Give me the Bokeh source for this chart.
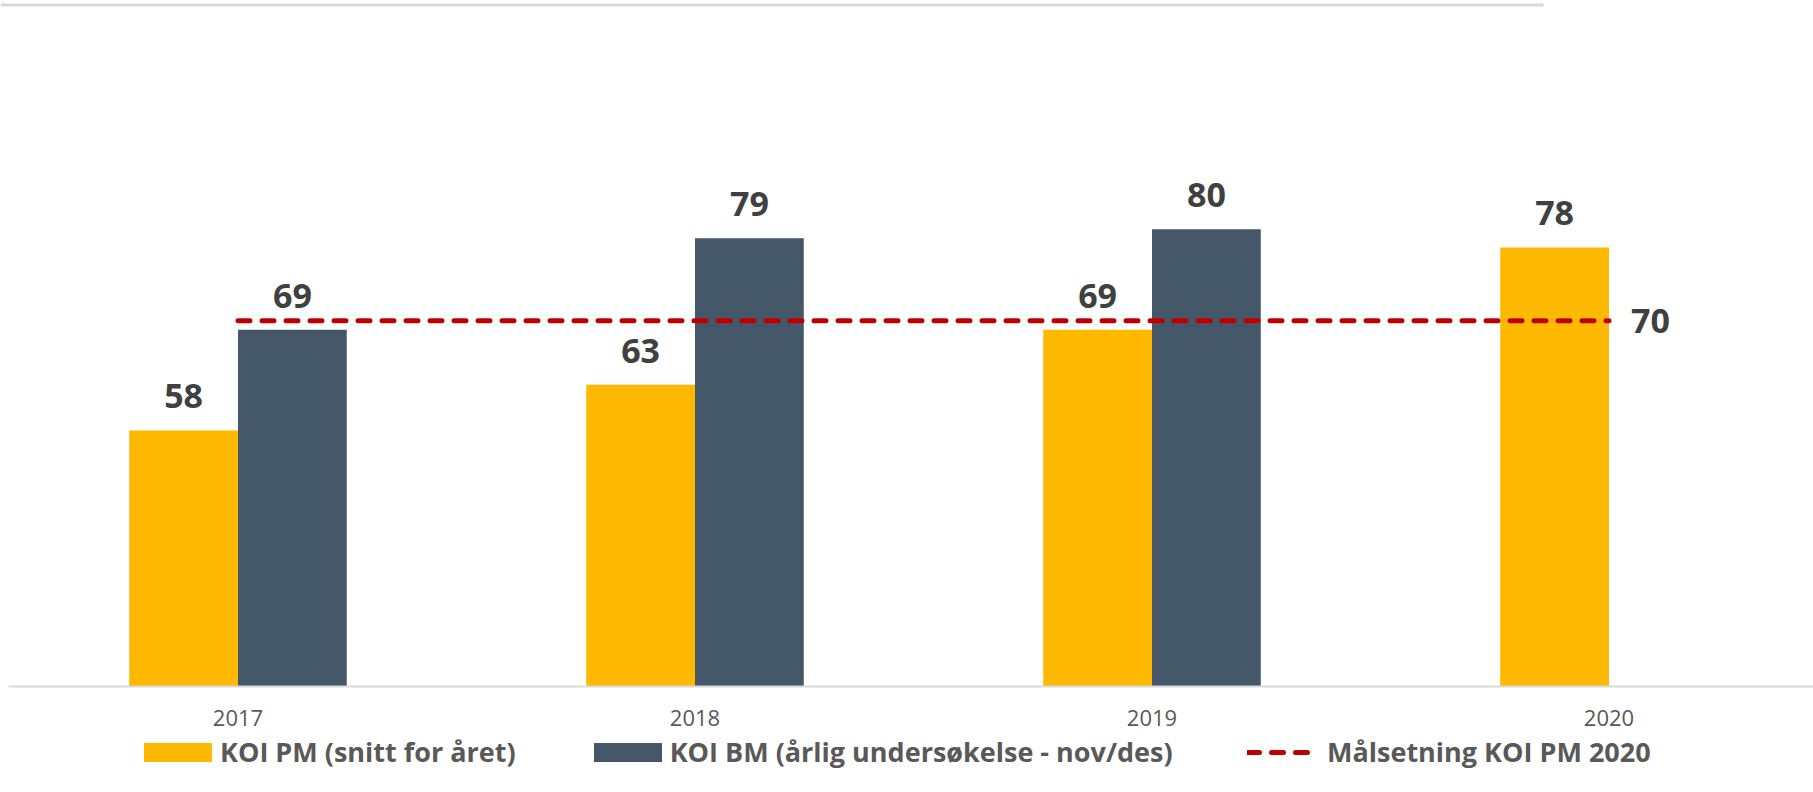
import numpy as np
from bokeh.plotting import figure
from bokeh.models import (ColumnDataSource, Range1d, Legend, LegendItem,
                          BoxAnnotation)
from bokeh.core.properties import value
from bokeh.embed import file_html
from bokeh.resources import INLINE

# --- data ---------------------------------------------------------------
years = ["2017", "2018", "2019", "2020"]
koi_pm = [58, 63, 69, 78]            # KOI PM (snitt for året)
koi_bm = [69, 79, 80, None]          # KOI BM (årlig undersøkelse - nov/des)
target_2020 = 70                     # Målsetning KOI PM 2020

# --- styling ------------------------------------------------------------
ORANGE = "#FFB900"
SLATE = "#455869"
RED = "#C00000"
LABEL = "#404040"
MUTED = "#595959"
RULE = "#D9D9D9"
FONT = "Open Sans"

W, H = 1813, 792
BAR_W = 0.238
Y_FLOOR = 30            # value axis starts here
AXIS_GAP = 106          # room under the bars for year labels + legend

x = np.arange(len(years), dtype=float)
pm_src = ColumnDataSource(dict(x=x - BAR_W / 2, top=koi_pm,
                               lbl=[str(v) for v in koi_pm]))
bm_idx = [i for i, v in enumerate(koi_bm) if v is not None]
bm_src = ColumnDataSource(dict(x=[x[i] + BAR_W / 2 for i in bm_idx],
                               top=[koi_bm[i] for i in bm_idx],
                               lbl=[str(koi_bm[i]) for i in bm_idx]))
tgt_src = ColumnDataSource(dict(x=[x[0], x[-1]], y=[target_2020, target_2020]))
tgt_lbl = ColumnDataSource(dict(x=[x[-1]], y=[target_2020], lbl=[str(target_2020)]))
yr_src = ColumnDataSource(dict(x=x, y=[Y_FLOOR] * len(years), lbl=years))

# scale: ~9.14 px per point, ~457 px per year
px_per_pt = (H - AXIS_GAP) / 75.0
y_lo = Y_FLOOR - AXIS_GAP / px_per_pt
x_lo = -0.5 - 9 / 457.0
x_hi = x_lo + W / 457.0

p = figure(width=W, height=H, output_backend="svg", toolbar_location=None,
           x_range=Range1d(x_lo, x_hi), y_range=Range1d(y_lo, 105),
           min_border=0, x_axis_type=None, y_axis_type=None)
p.outline_line_color = None
p.grid.visible = False
p.background_fill_color = "white"
p.border_fill_color = "white"

# thin rule across the top and the category baseline
# (screen units are measured from the frame's bottom-left corner)
p.add_layout(BoxAnnotation(left=0, right=1543, top=H - 3, bottom=H - 6,
                           left_units="screen", right_units="screen",
                           top_units="screen", bottom_units="screen",
                           fill_color=RULE, fill_alpha=1, line_color=None))

r_pm = p.vbar(x="x", top="top", bottom=Y_FLOOR, width=BAR_W, source=pm_src,
              fill_color=ORANGE, line_color=None)
r_bm = p.vbar(x="x", top="top", bottom=Y_FLOOR, width=BAR_W, source=bm_src,
              fill_color=SLATE, line_color=None)

p.add_layout(BoxAnnotation(left=8, right=W, top=AXIS_GAP + 1, bottom=AXIS_GAP - 1,
                           left_units="screen", right_units="screen",
                           top_units="screen", bottom_units="screen",
                           fill_color=RULE, fill_alpha=1, line_color=None))

r_tg = p.line(x="x", y="y", source=tgt_src, line_color=RED, line_width=5,
              line_dash="12 12", line_cap="round")

label_kw = dict(text_font=value(FONT), text_font_style="bold",
                text_font_size="34px", text_color=LABEL)
p.text(x="x", y="top", text="lbl", source=pm_src, text_align="center",
       text_baseline="middle", y_offset=-34, **label_kw)
p.text(x="x", y="top", text="lbl", source=bm_src, text_align="center",
       text_baseline="middle", y_offset=-34, **label_kw)
p.text(x="x", y="y", text="lbl", source=tgt_lbl, text_align="left",
       text_baseline="middle", x_offset=22, **label_kw)

# year labels under each group
p.text(x="x", y="y", text="lbl", source=yr_src, text_align="center",
       text_baseline="middle", y_offset=31, text_font=value(FONT),
       text_font_size="22px", text_color=MUTED)


def styled_legend(items, location, glyph_w, glyph_h, standoff):
    lg = Legend(items=items, orientation="horizontal", location=location)
    lg.label_text_font = FONT
    lg.label_text_font_style = "bold"
    lg.label_text_font_size = "27px"
    lg.label_text_color = MUTED
    lg.glyph_width = glyph_w
    lg.glyph_height = glyph_h
    lg.label_standoff = standoff
    lg.spacing = 69
    lg.padding = 0
    lg.margin = 0
    lg.border_line_color = None
    lg.background_fill_alpha = 0
    return lg


# bar swatches are drawn inset by 10 %, so their glyph box is a bit larger
bar_legend = styled_legend([
    LegendItem(label="KOI PM (snitt for året)", renderers=[r_pm]),
    LegendItem(label="KOI BM (årlig undersøkelse - nov/des)", renderers=[r_bm]),
], (135, 22), 85, 24, 0)
line_legend = styled_legend([
    LegendItem(label="Målsetning KOI PM 2020", renderers=[r_tg]),
], (1247, 22), 66, 24, 14)
p.add_layout(bar_legend, "center")
p.add_layout(line_legend, "center")

open("out.html", "w").write(file_html(p, INLINE))
